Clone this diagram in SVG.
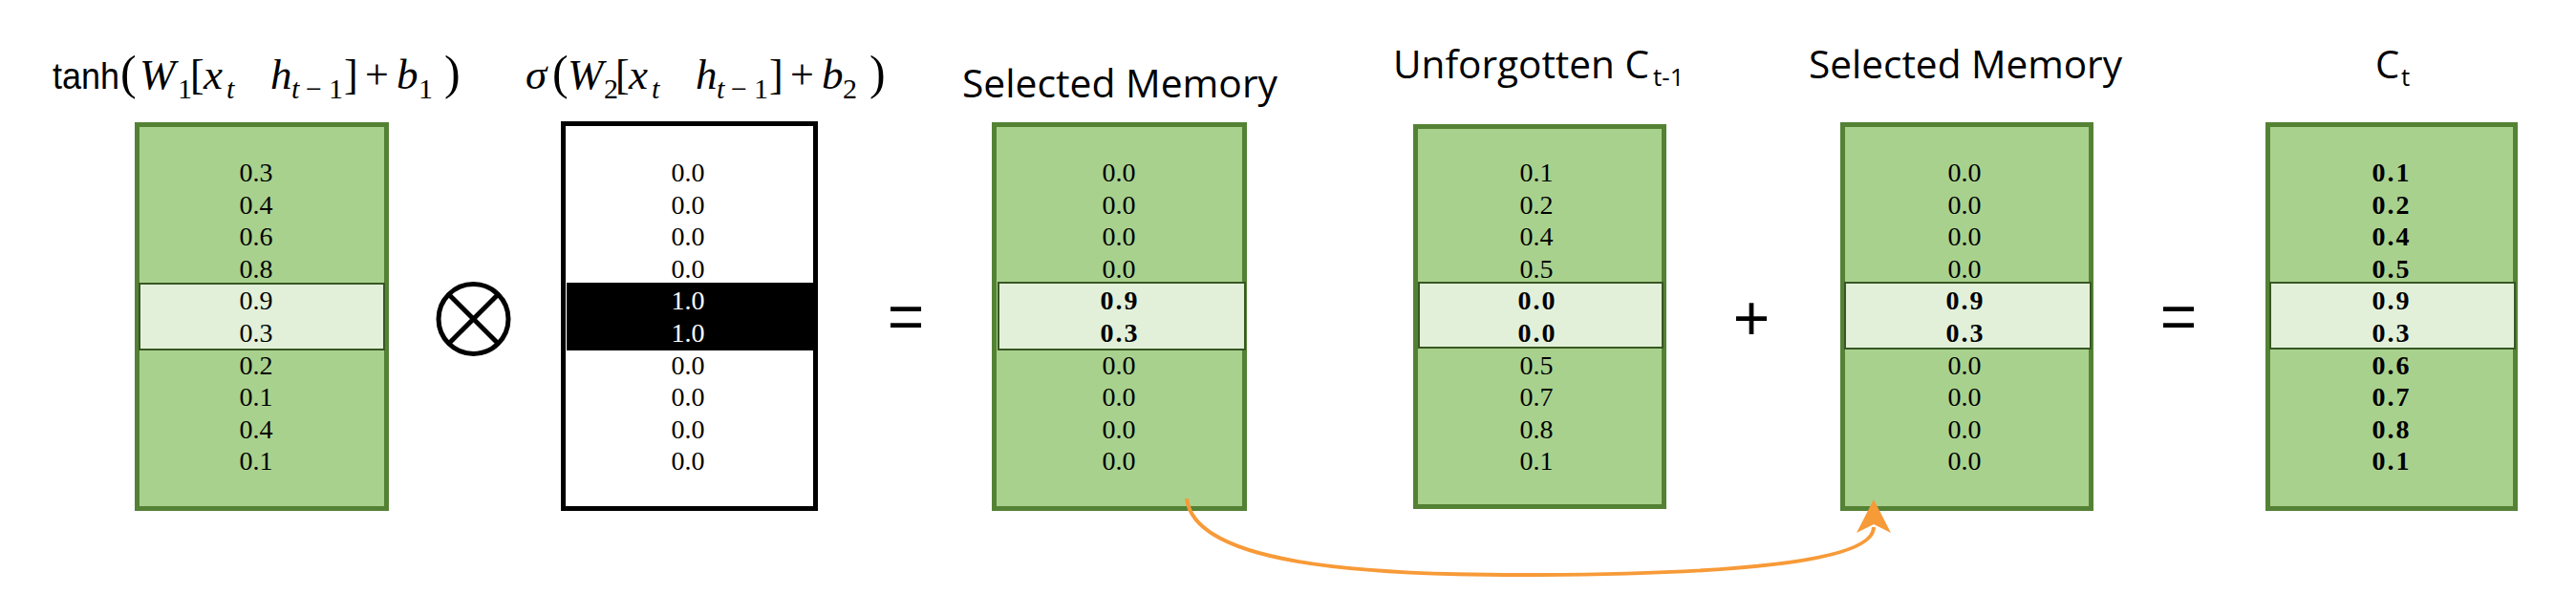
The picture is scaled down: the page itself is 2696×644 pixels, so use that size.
<svg xmlns="http://www.w3.org/2000/svg" width="2696" height="644" viewBox="0 0 2696 644">
<style>
.box{fill:#A9D18E;stroke:#548235;stroke-width:5}
.wbox{fill:#FFFFFF;stroke:#000000;stroke-width:5}
.band{fill:#E2F0D9;stroke:#385723;stroke-width:2}
.v{font-family:"Liberation Serif",serif;font-size:28px;text-anchor:middle;fill:#000}
.vb{font-family:"Liberation Serif",serif;font-size:28px;font-weight:bold;letter-spacing:2px;text-anchor:middle;fill:#000}
.vw{font-family:"Liberation Serif",serif;font-size:28px;text-anchor:middle;fill:#FFF}
.title{font-family:"Open Sans","Noto Sans",sans-serif;font-size:40px;fill:#000}
.tsub{font-family:"Open Sans","Noto Sans",sans-serif;font-size:26px;fill:#000}
.m{font-family:"Liberation Serif",serif;font-size:45px;font-style:italic;fill:#000}
.mu{font-family:"Liberation Serif",serif;font-size:44px;fill:#000}
.mp{font-family:"Liberation Serif",serif;font-size:50px;fill:#000}
.mb{font-family:"Liberation Serif",serif;font-size:44px;fill:#000}
.ms{font-family:"Liberation Serif",serif;font-size:30px;fill:#000}
.msi{font-family:"Liberation Serif",serif;font-size:30px;font-style:italic;fill:#000}
.fn{font-family:"Liberation Sans",sans-serif;font-size:38px;fill:#000}
.op{font-family:"Liberation Sans",sans-serif;font-size:66px;text-anchor:middle;fill:#000}
.conn{fill:none;stroke:#F79A38;stroke-width:4}
</style>
<defs>
<marker id="arrow" markerUnits="userSpaceOnUse" viewBox="-10 -20 42 40" markerWidth="42" markerHeight="40" refX="0" refY="0" orient="auto">
<path d="M29,0 L-6,-18 L3,0 L-6,18 Z" fill="#F79A38"/>
</marker>
</defs>
<rect x="0" y="0" width="2696" height="644" fill="#FFFFFF"/>

<g id="label-tanh">
<text class="fn" x="55" y="93" textLength="70" lengthAdjust="spacingAndGlyphs">tanh</text>
<text class="mp" x="126" y="93">(</text>
<text class="m" x="146" y="93">W</text>
<text class="ms" x="186" y="103">1</text>
<text class="mb" x="199" y="93">[</text>
<text class="m" x="213" y="93">x</text>
<text class="msi" x="237" y="103">t</text>
<text class="m" x="283" y="93">h</text>
<text class="msi" x="305" y="103">t</text>
<text class="ms" x="320" y="103">−</text>
<text class="ms" x="344" y="103">1</text>
<text class="mb" x="360" y="93">]</text>
<text class="mu" x="382" y="93">+</text>
<text class="m" x="415" y="93">b</text>
<text class="ms" x="438" y="103">1</text>
<text class="mp" x="465" y="93">)</text>
</g>

<g id="label-sigma">
<text class="m" x="550" y="93">σ</text>
<text class="mp" x="578" y="93">(</text>
<text class="m" x="594" y="93">W</text>
<text class="ms" x="632" y="103">2</text>
<text class="mb" x="644" y="93">[</text>
<text class="m" x="658" y="93">x</text>
<text class="msi" x="682" y="103">t</text>
<text class="m" x="728" y="93">h</text>
<text class="msi" x="750" y="103">t</text>
<text class="ms" x="765" y="103">−</text>
<text class="ms" x="789" y="103">1</text>
<text class="mb" x="805" y="93">]</text>
<text class="mu" x="827" y="93">+</text>
<text class="m" x="860" y="93">b</text>
<text class="ms" x="882" y="103">2</text>
<text class="mp" x="910" y="93">)</text>
</g>

<g id="node-tanh">
<rect class="box" x="143.5" y="130.5" width="261" height="402"/>
<rect class="band" x="146" y="297" width="256" height="69"/>
<text class="v" x="268" y="190">0.3</text>
<text class="v" x="268" y="223.6">0.4</text>
<text class="v" x="268" y="257.2">0.6</text>
<text class="v" x="268" y="290.8">0.8</text>
<text class="v" x="268" y="324.4">0.9</text>
<text class="v" x="268" y="358">0.3</text>
<text class="v" x="268" y="391.6">0.2</text>
<text class="v" x="268" y="425.2">0.1</text>
<text class="v" x="268" y="458.8">0.4</text>
<text class="v" x="268" y="492.4">0.1</text>
</g>

<g id="op-multiply">
<circle cx="495.5" cy="334" r="36.5" fill="none" stroke="#000" stroke-width="5"/>
<line x1="469.7" y1="308.2" x2="521.3" y2="359.8" stroke="#000" stroke-width="5"/>
<line x1="521.3" y1="308.2" x2="469.7" y2="359.8" stroke="#000" stroke-width="5"/>
</g>

<g id="node-sigma">
<rect class="wbox" x="589.5" y="129.5" width="264" height="403"/>
<rect x="593" y="296" width="259" height="71" fill="#000"/>
<text class="v" x="720" y="190">0.0</text>
<text class="v" x="720" y="223.6">0.0</text>
<text class="v" x="720" y="257.2">0.0</text>
<text class="v" x="720" y="290.8">0.0</text>
<text class="vw" x="720" y="324.4">1.0</text>
<text class="vw" x="720" y="358">1.0</text>
<text class="v" x="720" y="391.6">0.0</text>
<text class="v" x="720" y="425.2">0.0</text>
<text class="v" x="720" y="458.8">0.0</text>
<text class="v" x="720" y="492.4">0.0</text>
</g>

<text class="op" x="948" y="354">=</text>

<g id="node-selected1">
<text class="title" x="1007" y="102" textLength="330" lengthAdjust="spacingAndGlyphs">Selected Memory</text>
<rect class="box" x="1040.5" y="130.5" width="262" height="402"/>
<rect class="band" x="1045" y="296" width="258" height="70"/>
<text class="v" x="1171" y="190">0.0</text>
<text class="v" x="1171" y="223.6">0.0</text>
<text class="v" x="1171" y="257.2">0.0</text>
<text class="v" x="1171" y="290.8">0.0</text>
<text class="vb" x="1172" y="324.4">0.9</text>
<text class="vb" x="1172" y="358">0.3</text>
<text class="v" x="1171" y="391.6">0.0</text>
<text class="v" x="1171" y="425.2">0.0</text>
<text class="v" x="1171" y="458.8">0.0</text>
<text class="v" x="1171" y="492.4">0.0</text>
</g>

<g id="node-unforgotten">
<text x="1458" y="82"><tspan class="title" textLength="268" lengthAdjust="spacingAndGlyphs">Unforgotten C</tspan><tspan class="tsub" x="1730" y="90">t-1</tspan></text>
<rect class="box" x="1481.5" y="132.5" width="260" height="398"/>
<rect class="band" x="1485" y="296" width="255" height="68"/>
<text class="v" x="1608" y="190">0.1</text>
<text class="v" x="1608" y="223.6">0.2</text>
<text class="v" x="1608" y="257.2">0.4</text>
<text class="v" x="1608" y="290.8">0.5</text>
<text class="vb" x="1609" y="324.4">0.0</text>
<text class="vb" x="1609" y="358">0.0</text>
<text class="v" x="1608" y="391.6">0.5</text>
<text class="v" x="1608" y="425.2">0.7</text>
<text class="v" x="1608" y="458.8">0.8</text>
<text class="v" x="1608" y="492.4">0.1</text>
</g>

<text class="op" x="1833" y="356">+</text>

<g id="node-selected2">
<text class="title" x="1893" y="82" textLength="328" lengthAdjust="spacingAndGlyphs">Selected Memory</text>
<rect class="box" x="1928.5" y="130.5" width="260" height="402"/>
<rect class="band" x="1931" y="296" width="257" height="69"/>
<text class="v" x="2056" y="190">0.0</text>
<text class="v" x="2056" y="223.6">0.0</text>
<text class="v" x="2056" y="257.2">0.0</text>
<text class="v" x="2056" y="290.8">0.0</text>
<text class="vb" x="2057" y="324.4">0.9</text>
<text class="vb" x="2057" y="358">0.3</text>
<text class="v" x="2056" y="391.6">0.0</text>
<text class="v" x="2056" y="425.2">0.0</text>
<text class="v" x="2056" y="458.8">0.0</text>
<text class="v" x="2056" y="492.4">0.0</text>
</g>

<text class="op" x="2280" y="354">=</text>

<g id="node-ct">
<text x="2486" y="82"><tspan class="title">C</tspan><tspan class="tsub" x="2513" y="90">t</tspan></text>
<rect class="box" x="2373.5" y="130.5" width="259" height="402"/>
<rect class="band" x="2376" y="296" width="256" height="69"/>
<text class="vb" x="2503" y="190">0.1</text>
<text class="vb" x="2503" y="223.6">0.2</text>
<text class="vb" x="2503" y="257.2">0.4</text>
<text class="vb" x="2503" y="290.8">0.5</text>
<text class="vb" x="2503" y="324.4">0.9</text>
<text class="vb" x="2503" y="358">0.3</text>
<text class="vb" x="2503" y="391.6">0.6</text>
<text class="vb" x="2503" y="425.2">0.7</text>
<text class="vb" x="2503" y="458.8">0.8</text>
<text class="vb" x="2503" y="492.4">0.1</text>
</g>

<g id="connectors">
<path class="conn" d="M1242,522 C1250,590 1420,603 1610,602 C1800,601 1961,590 1961,552" marker-end="url(#arrow)"/>
</g>
</svg>
